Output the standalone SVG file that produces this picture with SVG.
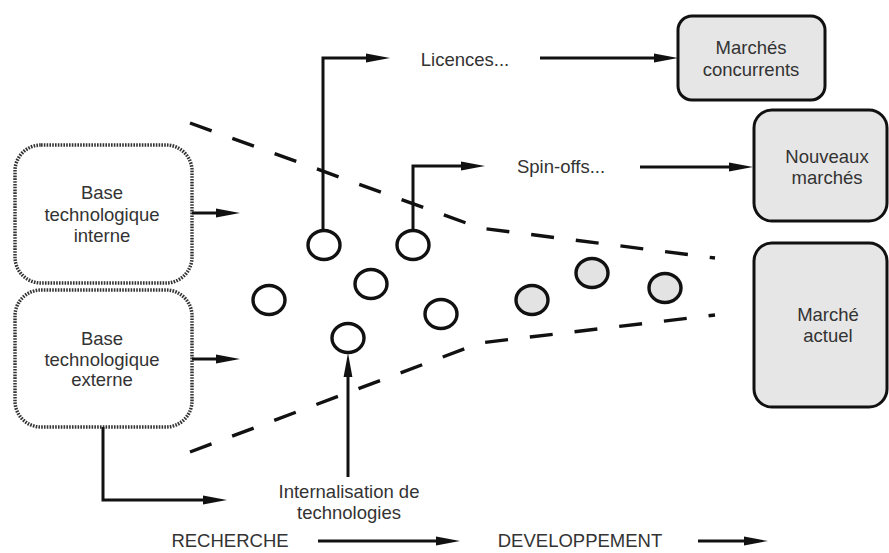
<svg xmlns="http://www.w3.org/2000/svg" width="889" height="553" viewBox="0 0 889 553">
  <style>
    text { font-family: "Liberation Sans", Arial, sans-serif; font-size: 18.5px; fill: #333; text-anchor: middle; }
    .link { fill: none; stroke: #111; stroke-width: 3; marker-end: url(#arrow); }
    .funnel { fill: none; stroke: #111; stroke-width: 3.4; stroke-dasharray: 23 22; }
    .market { fill: #e6e6e6; stroke: #111; stroke-width: 3; }
    .base { fill: #fff; stroke: #333; stroke-width: 3.5; stroke-dasharray: 1.6 1.2; }
    .tech { fill: #fff; stroke: #111; stroke-width: 3.4; }
    .tech.mature { fill: #e3e3e3; }
  </style>
  <defs>
    <marker id="arrow" markerUnits="userSpaceOnUse" viewBox="0 0 24 10" refX="8" refY="5" markerWidth="24" markerHeight="10" orient="auto">
      <path d="M0,0.6 L24,5 L0,9.4 Z" fill="#111"/>
    </marker>
  </defs>

  <!-- funnel boundaries -->
  <g id="funnel">
    <path class="funnel" d="M190,123 L480,228 L715,258"/>
    <path class="funnel" d="M190,452 L480,343 L715,315"/>
  </g>

  <!-- technology bases -->
  <g id="base-interne">
    <rect class="base" x="15" y="145" width="177" height="138" rx="26"/>
    <text x="102" y="199">Base</text>
    <text x="102" y="221">technologique</text>
    <text x="102" y="242">interne</text>
  </g>
  <g id="base-externe">
    <rect class="base" x="15" y="290" width="177" height="137" rx="26"/>
    <text x="102" y="345">Base</text>
    <text x="102" y="366">technologique</text>
    <text x="102" y="386">externe</text>
  </g>

  <!-- markets -->
  <g id="marches-concurrents">
    <rect class="market" x="678" y="16" width="147" height="84" rx="14"/>
    <text x="751" y="54">Marchés</text>
    <text x="751" y="76">concurrents</text>
  </g>
  <g id="nouveaux-marches">
    <rect class="market" x="754" y="110" width="133" height="111" rx="18"/>
    <text x="827" y="163">Nouveaux</text>
    <text x="827" y="184">marchés</text>
  </g>
  <g id="marche-actuel">
    <rect class="market" x="754" y="243" width="133" height="164" rx="18"/>
    <text x="828" y="321">Marché</text>
    <text x="828" y="342">actuel</text>
  </g>

  <!-- technologies / projects -->
  <g id="technologies">
    <ellipse class="tech" cx="324" cy="245" rx="16" ry="14.5"/>
    <ellipse class="tech" cx="413" cy="245" rx="16" ry="14.5"/>
    <ellipse class="tech" cx="371" cy="284" rx="16" ry="14.5"/>
    <ellipse class="tech" cx="269" cy="300" rx="16" ry="14.5"/>
    <ellipse class="tech" cx="441" cy="314" rx="16" ry="14.5"/>
    <ellipse class="tech" cx="348" cy="338" rx="16" ry="14.5"/>
    <ellipse class="tech mature" cx="532" cy="300" rx="16" ry="14.5"/>
    <ellipse class="tech mature" cx="592" cy="273" rx="16" ry="14.5"/>
    <ellipse class="tech mature" cx="665" cy="288" rx="16" ry="14.5"/>
  </g>

  <!-- labels -->
  <g id="licences"><text x="465" y="66">Licences...</text></g>
  <g id="spin-offs"><text x="561" y="173">Spin-offs...</text></g>
  <g id="internalisation">
    <text x="349" y="498">Internalisation de</text>
    <text x="349" y="519">technologies</text>
  </g>
  <g id="recherche"><text x="230" y="547">RECHERCHE</text></g>
  <g id="developpement"><text x="580" y="547">DEVELOPPEMENT</text></g>

  <!-- connectors -->
  <g id="connectors">
    <path class="link" d="M192,213 H224"/>
    <path class="link" d="M192,359 H224"/>
    <path class="link" d="M323,231 V58 H374"/>
    <path class="link" d="M540,58 H662"/>
    <path class="link" d="M413,231 V166 H469"/>
    <path class="link" d="M640,167 H737"/>
    <path class="link" d="M103,427 V500 H211"/>
    <path class="link" d="M348,477 V369"/>
    <path class="link" d="M318,541 H444"/>
    <path class="link" d="M698,541 H752"/>
  </g>
</svg>
